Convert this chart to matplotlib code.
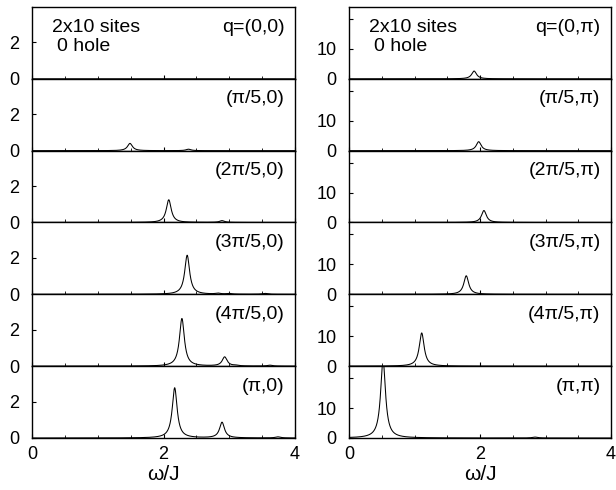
import numpy as np
import matplotlib
matplotlib.use("Agg")
import matplotlib.pyplot as plt

plt.rcParams['font.family'] = ['Liberation Sans', 'DejaVu Sans']

# ---- data: pole positions (omega/J) and peak heights for each panel ----
left_labels = ["q=(0,0)", "(\u03c0/5,0)", "(2\u03c0/5,0)", "(3\u03c0/5,0)", "(4\u03c0/5,0)", "(\u03c0,0)"]
right_labels = ["q=(0,\u03c0)", "(\u03c0/5,\u03c0)", "(2\u03c0/5,\u03c0)", "(3\u03c0/5,\u03c0)", "(4\u03c0/5,\u03c0)", "(\u03c0,\u03c0)"]

left_pos = [
    [],
    [1.49, 2.38],
    [2.08, 2.89],
    [2.36, 2.83, 3.00, 3.54],
    [2.28, 2.93, 3.10, 3.62],
    [2.17, 2.89, 3.74],
]
left_amp = [
    [],
    [0.40, 0.08],
    [1.25, 0.10],
    [2.15, 0.05, 0.04, 0.05],
    [2.62, 0.50, 0.03, 0.05],
    [2.76, 0.86, 0.06],
]
right_pos = [
    [1.91],
    [1.98],
    [2.06],
    [1.79],
    [1.11],
    [0.52, 2.84],
]
right_amp = [
    [2.6],
    [3.0],
    [4.0],
    [6.2],
    [11.1],
    [26.0, 0.3],
]
broadening = 0.045  # Lorentzian half width (omega/J)

omega = np.linspace(0, 4, 2001)

def spectrum(pos, amp):
    s = np.zeros_like(omega)
    for p, a in zip(pos, amp):
        s += a * broadening**2 / ((omega - p)**2 + broadening**2)
    return s

W, H = 616, 490
fig = plt.figure(figsize=(W/100, H/100), dpi=100)

top_px, bot_px = 7, 438
n = 6
ph = (bot_px - top_px) / n

cols = [
    dict(x0=32, x1=295, labels=left_labels, pos=left_pos, amp=left_amp,
         ylim=3.95, yticks=[0, 2], ylabels=['0', '2']),
    dict(x0=349, x1=611, labels=right_labels, pos=right_pos, amp=right_amp,
         ylim=24.0, yticks=[0, 10, 20], ylabels=['0', '10', '']),
]

for c in cols:
    for i in range(n):
        y_top = top_px + i * ph
        ax = fig.add_axes([c['x0']/W, 1 - (y_top + ph)/H, (c['x1'] - c['x0'])/W, ph/H])
        ax.plot(omega, spectrum(c['pos'][i], c['amp'][i]), color='black', lw=0.75)
        ax.set_xlim(0, 4)
        ax.set_ylim(0, c['ylim'])
        ax.set_yticks(c['yticks'])
        ax.set_yticklabels(c['ylabels'])
        ax.set_xticks([0, 2, 4])
        ax.set_xticks(np.arange(0, 4.01, 0.5), minor=True)
        ax.tick_params(direction='in', length=3, width=0.8, labelsize=13,
                       top=False, right=False)
        ax.tick_params(axis='y', pad=9)
        ax.tick_params(axis='x', pad=6)
        ax.tick_params(which='minor', direction='in', length=2, width=0.6,
                       top=False, right=False)
        ax.tick_params(axis='y', which='minor', left=False)
        for sp in ax.spines.values():
            sp.set_linewidth(1.0)
        if i < n - 1:
            ax.set_xticklabels([])
        else:
            ax.set_xlabel("\u03c9/J", fontsize=15, labelpad=1)
        ax.text(0.96, 0.72, c['labels'][i], transform=ax.transAxes,
                ha='right', va='center', fontsize=14)
        if i == 0:
            ax.text(0.075, 0.72, "2x10 sites", transform=ax.transAxes,
                    ha='left', va='center', fontsize=14)
            ax.text(0.095, 0.45, "0 hole", transform=ax.transAxes,
                    ha='left', va='center', fontsize=14)

fig.savefig("out.png", dpi=100)
